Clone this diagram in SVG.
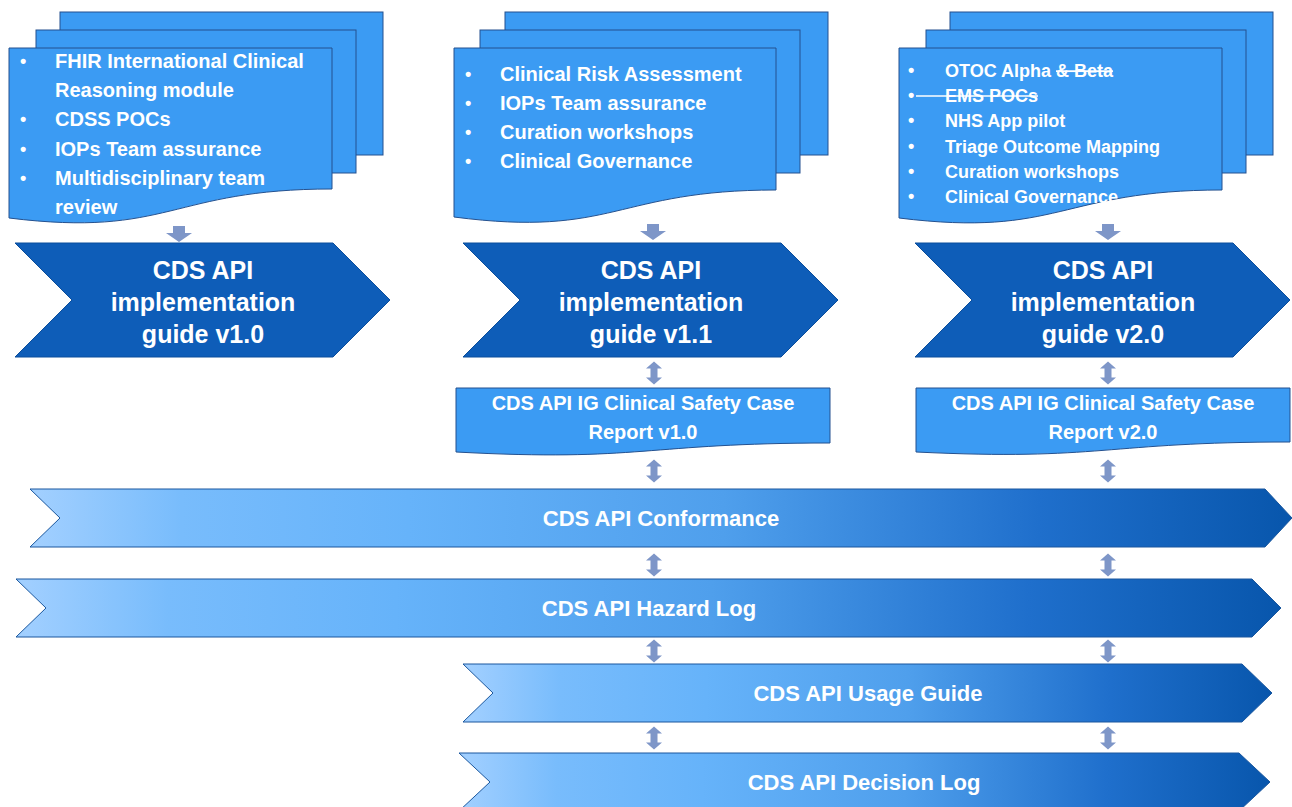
<svg xmlns="http://www.w3.org/2000/svg" width="1292" height="807" viewBox="0 0 1292 807">
<style>
.page{fill:#3B9BF3;stroke:#24518F;stroke-width:1}
.chev{fill:#0E5DB8;stroke:#0B4E9C;stroke-width:1}
.band{fill:url(#bandGrad);stroke:#1A579E;stroke-width:1}
.arr{fill:#7E96C8}
text{font-family:"Liberation Sans",Arial,sans-serif;font-weight:bold;fill:#FFFFFF}
.doc{font-size:20px}
.doc3{font-size:18px}
.chevt{font-size:25px;text-anchor:middle}
.safe{font-size:20px;text-anchor:middle}
.bandt{font-size:22px;text-anchor:middle}
.bul{font-size:18px}
.strike{stroke:#FFFFFF;stroke-width:1.6}
</style>
<defs>
<linearGradient id="bandGrad" x1="0" y1="0" x2="1" y2="0">
<stop offset="0" stop-color="#A3D0FF"/>
<stop offset="0.12" stop-color="#78BCFC"/>
<stop offset="0.3" stop-color="#66B3FA"/>
<stop offset="0.55" stop-color="#4F9FEC"/>
<stop offset="0.8" stop-color="#1F6FCC"/>
<stop offset="1" stop-color="#0856AC"/>
</linearGradient>
<path id="dbl" d="M0,-11.5 L8,-4.5 L3.5,-4.5 L3.5,4.5 L8,4.5 L0,11.5 L-8,4.5 L-3.5,4.5 L-3.5,-4.5 L-8,-4.5 Z"/>
<path id="down" d="M-6,0 H6 V7 H13 L0,16 L-13,7 H-6 Z"/>
</defs>
<rect width="1292" height="807" fill="#FFFFFF"/>

<g id="docs-1">
<rect class="page" x="60" y="12" width="323" height="143"/>
<rect class="page" x="36" y="30" width="320" height="143"/>
<path class="page" d="M9,48 H332 V189 C170,189 170,238 9,218 Z"/>
<text class="bul" x="20" y="67">•</text>
<text class="bul" x="20" y="125">•</text>
<text class="bul" x="20" y="155">•</text>
<text class="bul" x="20" y="184">•</text>
<text class="doc" x="55" y="68">FHIR International Clinical</text>
<text class="doc" x="55" y="97">Reasoning module</text>
<text class="doc" x="55" y="126">CDSS POCs</text>
<text class="doc" x="55" y="156">IOPs Team assurance</text>
<text class="doc" x="55" y="185">Multidisciplinary team</text>
<text class="doc" x="55" y="214">review</text>
</g>

<g id="docs-2">
<rect class="page" x="505" y="12" width="323" height="143"/>
<rect class="page" x="480" y="30" width="320" height="143"/>
<path class="page" d="M454,48 H776 V190 C615,190 615,238 454,217 Z"/>
<text class="bul" x="465" y="80">•</text>
<text class="bul" x="465" y="109">•</text>
<text class="bul" x="465" y="138">•</text>
<text class="bul" x="465" y="167">•</text>
<text class="doc" x="500" y="81">Clinical Risk Assessment</text>
<text class="doc" x="500" y="110">IOPs Team assurance</text>
<text class="doc" x="500" y="139">Curation workshops</text>
<text class="doc" x="500" y="168">Clinical Governance</text>
</g>

<g id="docs-3">
<rect class="page" x="950" y="12" width="323" height="143"/>
<rect class="page" x="926" y="30" width="320" height="143"/>
<path class="page" d="M899,48 H1222 V190 C1060,190 1060,238 899,218 Z"/>
<text class="bul" x="908" y="76">•</text>
<text class="bul" x="908" y="101">•</text>
<text class="bul" x="908" y="126">•</text>
<text class="bul" x="908" y="152">•</text>
<text class="bul" x="908" y="177">•</text>
<text class="bul" x="908" y="202">•</text>
<text class="doc3" x="945" y="76.5">OTOC Alpha <tspan text-decoration="line-through">&amp; Beta</tspan></text>
<text class="doc3" x="945" y="102">EMS POCs</text>
<line class="strike" x1="916" y1="96" x2="1038" y2="96"/>
<text class="doc3" x="945" y="127">NHS App pilot</text>
<text class="doc3" x="945" y="152.5">Triage Outcome Mapping</text>
<text class="doc3" x="945" y="177.5">Curation workshops</text>
<text class="doc3" x="945" y="203">Clinical Governance</text>
</g>

<g id="ig-v1-0">
<path class="chev" d="M15,243 H333 L390,300 L333,357 H15 L72,300 Z"/>
<text class="chevt" x="203" y="279">CDS API</text>
<text class="chevt" x="203" y="311">implementation</text>
<text class="chevt" x="203" y="343">guide v1.0</text>
</g>
<g id="ig-v1-1">
<path class="chev" d="M463,243 H781 L838,300 L781,357 H463 L520,300 Z"/>
<text class="chevt" x="651" y="279">CDS API</text>
<text class="chevt" x="651" y="311">implementation</text>
<text class="chevt" x="651" y="343">guide v1.1</text>
</g>
<g id="ig-v2-0">
<path class="chev" d="M915,243 H1233 L1290,300 L1233,357 H915 L972,300 Z"/>
<text class="chevt" x="1103" y="279">CDS API</text>
<text class="chevt" x="1103" y="311">implementation</text>
<text class="chevt" x="1103" y="343">guide v2.0</text>
</g>

<g id="safety-v1-0">
<path class="page" d="M456,388 H830 V443 C643,443 643,462 456,452 Z"/>
<text class="safe" x="643" y="410">CDS API IG Clinical Safety Case</text>
<text class="safe" x="643" y="439">Report v1.0</text>
</g>
<g id="safety-v2-0">
<path class="page" d="M916,388 H1290 V442 C1103,442 1103,461 916,452 Z"/>
<text class="safe" x="1103" y="410">CDS API IG Clinical Safety Case</text>
<text class="safe" x="1103" y="439">Report v2.0</text>
</g>

<g id="conformance">
<path class="band" d="M30,489 H1265 L1292,518 L1265,547 H30 L60,518 Z"/>
<text class="bandt" x="661" y="526">CDS API Conformance</text>
</g>
<g id="hazard-log">
<path class="band" d="M16,579 H1252 L1281,608 L1252,637 H16 L46,608 Z"/>
<text class="bandt" x="649" y="616">CDS API Hazard Log</text>
</g>
<g id="usage-guide">
<path class="band" d="M463,664 H1242 L1272,693 L1242,722 H463 L493,693 Z"/>
<text class="bandt" x="868" y="701">CDS API Usage Guide</text>
</g>
<g id="decision-log">
<path class="band" d="M459,753 H1239 L1270,782 L1239,811 H459 L490,782 Z"/>
<text class="bandt" x="864" y="790">CDS API Decision Log</text>
</g>

<g id="connectors">
<use href="#down" class="arr" x="179" y="226"/>
<use href="#down" class="arr" x="653" y="224"/>
<use href="#down" class="arr" x="1108" y="224"/>
<use href="#dbl" class="arr" x="654" y="373"/>
<use href="#dbl" class="arr" x="1108" y="373"/>
<use href="#dbl" class="arr" x="654" y="471"/>
<use href="#dbl" class="arr" x="1108" y="471"/>
<use href="#dbl" class="arr" x="654" y="565"/>
<use href="#dbl" class="arr" x="1108" y="565"/>
<use href="#dbl" class="arr" x="654" y="651"/>
<use href="#dbl" class="arr" x="1108" y="651"/>
<use href="#dbl" class="arr" x="654" y="738"/>
<use href="#dbl" class="arr" x="1108" y="738"/>
</g>
</svg>
